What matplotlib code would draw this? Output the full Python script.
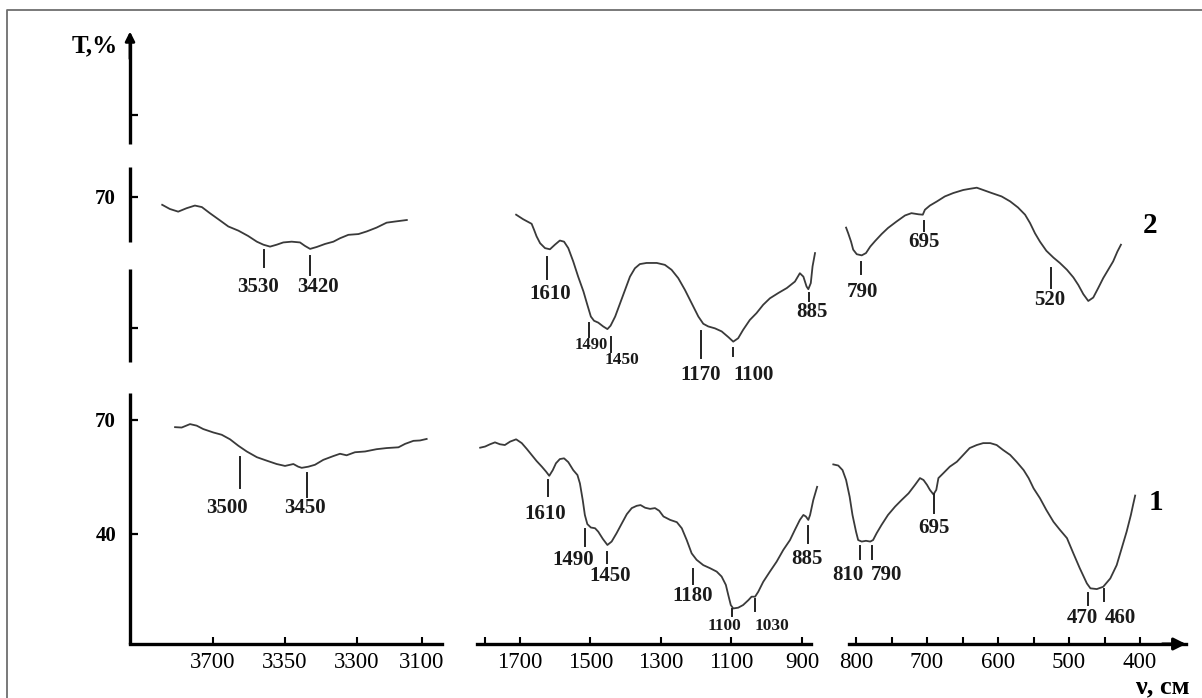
import numpy as np
import matplotlib.pyplot as plt
from matplotlib.lines import Line2D

plt.rcParams['font.family'] = ['Liberation Serif', 'DejaVu Serif']

# ---- spectrum 2 (upper curve), T in %, drawn shifted up by OFFSET ----
s2_wn_a = [3846, 3824, 3800, 3776, 3752, 3732, 3709, 3680, 3656, 3627, 3599, 3574, 3555, 3536, 3517, 3498,
           3474, 3450, 3436, 3421, 3402, 3378, 3354, 3335, 3311, 3282, 3258, 3230, 3201, 3177, 3143]
s2_t_a = [67.9, 66.8, 66.1, 67.0, 67.7, 67.3, 65.7, 63.8, 62.2, 61.1, 59.7, 58.2, 57.4, 56.9, 57.4, 58.0,
          58.2, 58.0, 57.1, 56.3, 56.8, 57.6, 58.2, 59.1, 60.0, 60.2, 60.9, 61.9, 63.2, 63.5, 63.9]

s2_wn_b = [1711, 1691, 1667, 1660, 1653, 1643, 1629, 1615, 1601, 1587, 1575, 1563, 1549, 1535, 1520, 1509,
           1499, 1490, 1478, 1464, 1452, 1443, 1430, 1416, 1402, 1388, 1374, 1360, 1341, 1312, 1289, 1270,
           1251, 1232, 1213, 1194, 1180, 1166, 1147, 1128, 1109, 1095, 1081, 1067, 1048, 1029, 1010, 991,
           967, 943, 920, 906, 896, 887, 882, 875, 870, 863]
s2_t_b = [65.3, 64.1, 62.9, 61.3, 59.6, 57.8, 56.5, 56.2, 57.4, 58.5, 58.2, 56.5, 53.0, 49.0, 45.1, 41.6,
          38.5, 37.4, 36.9, 35.9, 35.2, 36.1, 38.5, 42.0, 45.5, 49.0, 51.2, 52.3, 52.6, 52.6, 52.1, 50.8,
          48.6, 45.5, 42.0, 38.5, 36.6, 35.9, 35.4, 34.6, 33.1, 31.9, 32.8, 35.0, 37.6, 39.4, 41.6, 43.3,
          44.7, 46.0, 47.7, 49.9, 49.0, 46.4, 45.7, 47.3, 51.7, 55.2]

s2_wn_c = [814, 811, 807, 804, 799, 792, 786, 780, 773, 764, 755, 743, 731, 722, 712, 706, 703, 696, 686,
           675, 663, 649, 640, 630, 621, 609, 595, 583, 572, 562, 555, 548, 541, 532, 522, 513, 503, 494,
           487, 480, 473, 466, 459, 452, 445, 438, 432, 427]
s2_t_c = [61.9, 60.4, 58.2, 56.1, 54.9, 54.6, 55.2, 56.9, 58.4, 60.2, 61.8, 63.5, 65.1, 65.7, 65.4, 65.3,
          66.6, 67.7, 68.8, 70.1, 71.0, 71.8, 72.1, 72.4, 71.8, 71.0, 70.1, 68.8, 67.2, 65.3, 63.1, 60.4,
          58.2, 55.8, 54.0, 52.6, 50.8, 48.8, 46.8, 44.4, 42.6, 43.5, 46.0, 48.6, 50.8, 53.0, 55.6, 57.4]

# ---- spectrum 1 (lower curve), T in % ----
s1_wn_a = [3809, 3790, 3766, 3747, 3728, 3699, 3675, 3651, 3627, 3603, 3574, 3546, 3517, 3493, 3469, 3455,
           3445, 3426, 3407, 3383, 3354, 3335, 3316, 3292, 3263, 3230, 3201, 3167, 3148, 3124, 3105, 3086]
s1_t_a = [68.1, 68.0, 68.9, 68.5, 67.6, 66.7, 66.1, 64.9, 63.2, 61.7, 60.2, 59.3, 58.4, 57.9, 58.4, 57.7,
          57.4, 57.7, 58.2, 59.5, 60.5, 61.1, 60.7, 61.5, 61.7, 62.3, 62.6, 62.8, 63.7, 64.5, 64.6, 65.0]

s1_wn_b = [1813, 1799, 1785, 1771, 1757, 1743, 1728, 1711, 1695, 1681, 1667, 1653, 1638, 1626, 1617, 1607,
           1598, 1587, 1575, 1563, 1549, 1537, 1530, 1522, 1516, 1509, 1499, 1487, 1478, 1465, 1452, 1440,
           1426, 1411, 1397, 1383, 1369, 1358, 1345, 1331, 1317, 1305, 1293, 1274, 1255, 1241, 1227, 1213,
           1199, 1180, 1161, 1142, 1128, 1116, 1109, 1102, 1095, 1081, 1067, 1052, 1043, 1033, 1024, 1010,
           991, 972, 953, 934, 920, 906, 896, 889, 882, 877, 868, 857]
s1_t_b = [62.7, 63.0, 63.6, 64.1, 63.6, 63.4, 64.3, 64.9, 63.9, 62.4, 60.8, 59.2, 57.7, 56.4, 55.3, 56.8,
          58.6, 59.7, 59.9, 58.9, 56.8, 55.5, 53.3, 48.9, 45.0, 42.6, 41.7, 41.5, 40.6, 38.7, 37.1, 38.0,
          40.2, 42.8, 45.2, 46.8, 47.4, 47.6, 46.9, 46.6, 46.8, 46.1, 44.6, 43.7, 43.1, 41.5, 38.4, 34.9,
          33.2, 31.8, 31.0, 30.1, 28.8, 26.6, 23.9, 21.3, 20.4, 20.6, 21.3, 22.6, 23.5, 23.5, 24.8, 27.4,
          30.1, 32.7, 35.8, 38.4, 41.1, 43.7, 45.0, 44.6, 43.7, 45.0, 48.9, 52.4]

s1_wn_c = [832, 825, 819, 814, 809, 805, 800, 797, 792, 786, 780, 776, 771, 764, 755, 745, 736, 726, 717,
           710, 705, 700, 696, 691, 687, 684, 677, 668, 658, 649, 640, 630, 621, 611, 602, 593, 583, 574,
           564, 557, 550, 541, 532, 522, 513, 503, 494, 485, 475, 470, 461, 452, 442, 433, 426, 419, 413,
           410, 407]
s1_t_c = [58.3, 58.0, 56.8, 54.2, 49.8, 45.0, 40.6, 38.4, 38.0, 38.2, 38.0, 38.4, 40.2, 42.4, 45.0, 47.2,
          48.9, 50.7, 52.9, 54.7, 54.2, 52.9, 51.6, 50.4, 51.6, 54.7, 56.0, 57.7, 59.0, 60.8, 62.6, 63.4,
          63.9, 63.9, 63.4, 62.1, 60.8, 59.0, 56.8, 54.7, 52.0, 49.4, 46.3, 43.2, 41.1, 38.9, 34.9, 31.0,
          27.0, 25.7, 25.5, 26.1, 28.3, 31.8, 36.2, 40.6, 45.0, 47.6, 50.1]

# ---- band labels: text and band position ----
p2a_lab = ["3530", "3420"]
p2a_wn = [3553, 3421]
p2b_lab = ["1610", "1490", "1450", "1170", "1100", "885"]
p2b_wn = [1624, 1503, 1442, 1187, 1095, 879]
p2c_lab = ["790", "695", "520"]
p2c_wn = [793, 705, 526]
p1a_lab = ["3500", "3450"]
p1a_wn = [3622, 3431]
p1b_lab = ["1610", "1490", "1450", "1180", "1100", "1030", "885"]
p1b_wn = [1620, 1516, 1452, 1208, 1099, 1033, 882]
p1c_lab = ["810", "790", "695", "470", "460"]
p1c_wn = [795, 777, 690, 474, 451]

# layout of the band marks (top, bottom of the little bar; label centre)
p2a_top, p2a_bot, p2a_tx, p2a_ty = [56.1, 54.5], [51.6, 49.5], [3571, 3398], [46.3, 46.3]
p2b_top = [54.1, 36.9, 33.2, 34.6, 30.2, 44.7]
p2b_bot = [48.3, 33.2, 29.3, 27.6, 28.2, 42.7]
p2b_tx = [1615, 1497, 1411, 1187, 1038, 872]
p2b_ty = [44.5, 31.1, 27.1, 23.2, 23.2, 39.6]
p2b_fs = [15, 12, 12.5, 15, 15, 15]
p2c_top, p2c_bot, p2c_tx, p2c_ty = [52.8, 63.7, 51.2], [49.7, 60.9, 46.0], [791, 705, 527], [44.9, 58.1, 42.9]
p1a_top, p1a_bot, p1a_tx, p1a_ty = [60.3, 56.1], [52.0, 49.8], [3661, 3436], [46.8, 46.8]
p1b_top = [54.2, 41.2, 35.3, 30.7, 20.2, 22.8, 42.1]
p1b_bot = [50.0, 36.8, 32.3, 26.8, 18.4, 19.8, 37.7]
p1b_tx = [1629, 1549, 1443, 1211, 1120, 986, 887]
p1b_ty = [45.3, 33.2, 28.9, 23.7, 15.8, 15.8, 33.3]
p1b_fs = [15, 15, 15, 15, 12.5, 12.5, 15]
p1c_top = [36.8, 36.8, 50.5, 24.4, 25.4]
p1c_bot = [33.3, 33.3, 45.4, 21.3, 22.4]
p1c_tx = [811, 757, 690, 482, 428]
p1c_ty = [29.2, 29.2, 41.5, 17.8, 17.8]

OFFSET = 58.7
YLIM = (11.05, 171.8)
LINE = '#3a3a3a'


def draw_peaks(ax, xs, labels, tops, bots, tx, ty, shift=0.0, sizes=None):
    for i in range(len(xs)):
        ax.plot([xs[i], xs[i]], [tops[i] + shift, bots[i] + shift], color='#222222', lw=1.4, clip_on=False)
        fs = 15 if sizes is None else sizes[i]
        ax.text(tx[i], ty[i] + shift, labels[i], ha='center', va='center', fontsize=fs,
                fontweight='bold', color='#1a1a1a', clip_on=False)


fig = plt.figure(figsize=(12.02, 6.98), dpi=100)
W, H = 1202.0, 698.0
bottom, height = 1 - 644 / H, (644 - 33) / H
ax1 = fig.add_axes([130 / W, bottom, 312 / W, height])
ax2 = fig.add_axes([477 / W, bottom, 334 / W, height])
ax3 = fig.add_axes([849 / W, bottom, 337 / W, height])

ax1.set_xlim(3938.5, 3041.9)
ax2.set_xlim(1822, 874.4)
ax3.set_xlim(809.9, 335.4)

for ax in (ax1, ax2, ax3):
    ax.set_ylim(*YLIM)
    for s in ('top', 'right', 'left'):
        ax.spines[s].set_visible(False)
    ax.spines['bottom'].set_linewidth(2.4)
    ax.tick_params(axis='x', direction='in', length=5, width=1.5, pad=6, labelsize=16.5)
    ax.patch.set_alpha(0)

ax2.set_yticks([])
ax3.set_yticks([])

# curves
ax1.plot(s2_wn_a, np.array(s2_t_a) + OFFSET, color=LINE, lw=1.3, clip_on=False)
ax2.plot(s2_wn_b, np.array(s2_t_b) + OFFSET, color=LINE, lw=1.3, clip_on=False)
ax3.plot(s2_wn_c, np.array(s2_t_c) + OFFSET, color=LINE, lw=1.3, clip_on=False)
ax1.plot(s1_wn_a, s1_t_a, color=LINE, lw=1.3, clip_on=False)
ax2.plot(s1_wn_b, s1_t_b, color=LINE, lw=1.3, clip_on=False)
ax3.plot(s1_wn_c, s1_t_c, color=LINE, lw=1.3, clip_on=False)

draw_peaks(ax1, p2a_wn, p2a_lab, p2a_top, p2a_bot, p2a_tx, p2a_ty, OFFSET)
draw_peaks(ax2, p2b_wn, p2b_lab, p2b_top, p2b_bot, p2b_tx, p2b_ty, OFFSET, p2b_fs)
draw_peaks(ax3, p2c_wn, p2c_lab, p2c_top, p2c_bot, p2c_tx, p2c_ty, OFFSET)
draw_peaks(ax1, p1a_wn, p1a_lab, p1a_top, p1a_bot, p1a_tx, p1a_ty)
draw_peaks(ax2, p1b_wn, p1b_lab, p1b_top, p1b_bot, p1b_tx, p1b_ty, 0.0, p1b_fs)
draw_peaks(ax3, p1c_wn, p1c_lab, p1c_top, p1c_bot, p1c_tx, p1c_ty)

# x ticks
ax1.set_xticks([3700, 3493, 3286, 3100])
ax1.set_xticklabels(["3700", "3350", "3300", "3100"])
ax2.set_xticks([1700, 1500, 1300, 1100, 900])
ax2.set_xticks([1800], minor=True)
ax3.set_xticks([800, 700, 600, 500, 400])
ax3.set_xticks([750, 650, 550, 450], minor=True)
for ax in (ax2, ax3):
    ax.tick_params(axis='x', which='minor', direction='in', length=5, width=1.5)

# broken y axis
yseg = [(11.05, 77.1), (85.3, 109.7), (116.8, 136.6), (142.6, 170.5)]
tr = ax1.get_yaxis_transform()
for lo, hi in yseg:
    ax1.plot([0, 0], [lo, hi], transform=tr, color='black', lw=2.4, clip_on=False, solid_capstyle='butt')
ax1.annotate('', xy=(0, 172.2), xytext=(0, 165), xycoords=tr, textcoords=tr,
             arrowprops=dict(arrowstyle='-|>', color='black', lw=2.0, mutation_scale=14,
                             shrinkA=0, shrinkB=0))
ax1.set_yticks([40, 70, 94.2, 70 + OFFSET, 150.3])
ax1.set_yticklabels(["40", "70", "", "70", ""])
ax1.tick_params(axis='y', direction='in', length=6, width=1.6, pad=10, labelsize=15)
for lbl in ax1.get_yticklabels():
    lbl.set_fontweight('bold')

# x arrow
ax3.annotate('', xy=(1.0, 0), xytext=(0.93, 0), xycoords='axes fraction',
             arrowprops=dict(arrowstyle='-|>', color='black', lw=2.2, mutation_scale=18,
                             shrinkA=0, shrinkB=0))

# spectrum numbers
ax3.text(386, 62.4 + OFFSET, "2", fontsize=21, fontweight='bold', ha='center', va='center', clip_on=False)
ax3.text(378, 48.2, "1", fontsize=21, fontweight='bold', ha='center', va='center', clip_on=False)

fig.text(95 / W, 1 - 46 / H, "T,%", fontsize=18, fontweight='bold', ha='center', va='center')
fig.text(1135 / W, 1 - 687 / H, "ν, см", fontsize=19, fontweight='bold', ha='left', va='center')

# outer frame
fig.add_artist(Line2D([7 / W, 7 / W, 1.0], [0.0, 1 - 10 / H, 1 - 10 / H], transform=fig.transFigure,
                      color='#6e6e6e', lw=1.3))

fig.savefig("out.png", dpi=100)
